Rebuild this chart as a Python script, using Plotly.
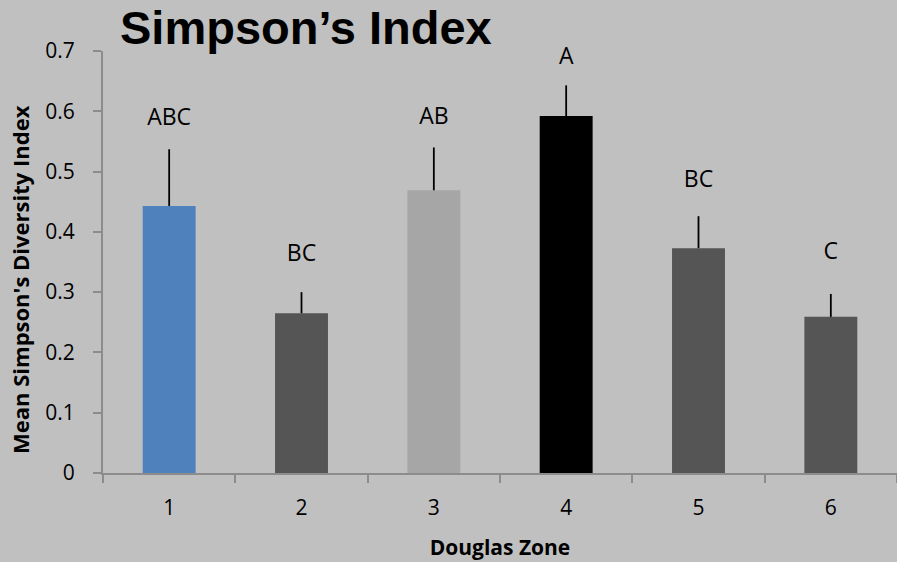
import plotly.graph_objects as go

zones = ["1", "2", "3", "4", "5", "6"]
means = [0.443, 0.265, 0.469, 0.592, 0.373, 0.259]
errors = [0.094, 0.035, 0.071, 0.051, 0.053, 0.038]
letters = ["ABC", "BC", "AB", "A", "BC", "C"]
letter_y = [0.586, 0.362, 0.588, 0.688, 0.484, 0.364]
colors = ["#4f81bd", "#555555", "#a6a6a6", "#000000", "#555555", "#555555"]

BG = "#c0c0c0"
AX = "#8c8c8c"
FONT = "Open Sans"

PL, PT, PW, PH = 103, 51, 794, 422

fig = go.Figure()
fig.add_trace(go.Bar(
    x=zones, y=means, marker=dict(color=colors, line=dict(width=0)),
    error_y=dict(type="data", symmetric=False, array=errors,
                 arrayminus=[0] * len(errors), width=0, thickness=1.8, color="#000000"),
    showlegend=False, hoverinfo="skip",
))
fig.add_trace(go.Scatter(
    x=zones, y=letter_y, mode="text", text=letters, cliponaxis=False,
    textfont=dict(family=FONT, size=23, color="#000000"),
    showlegend=False, hoverinfo="skip",
))

fig.update_layout(
    width=897, height=562,
    paper_bgcolor=BG, plot_bgcolor=BG,
    margin=dict(l=PL, r=0, t=PT, b=89),
    bargap=0.6,
    font=dict(family=FONT, size=22, color="#000000"),
    annotations=[
        dict(text="<b>Simpson’s Index</b>", x=(118 - PL) / PW, y=1 + (PT - 28) / PH,
             xref="paper", yref="paper", showarrow=False,
             font=dict(family="Liberation Sans", size=47, color="#000000"),
             xanchor="left", yanchor="middle"),
        dict(text="<b>Mean Simpson's Diversity Index</b>", textangle=-90,
             x=(20 - PL) / PW, y=1 - (280 - PT) / PH,
             xref="paper", yref="paper", showarrow=False,
             font=dict(family=FONT, size=22, color="#000000"),
             xanchor="center", yanchor="middle"),
    ],
)

fig.update_xaxes(
    type="category", tickson="boundaries", ticks="outside", ticklen=8, tickcolor=AX,
    tickwidth=2, showline=True, linecolor=AX, linewidth=2, showgrid=False,
    tickfont=dict(family=FONT, size=21), range=[-0.5, 5.5], ticklabelstandoff=15,
    title=dict(text="<b>Douglas Zone</b>", font=dict(family=FONT, size=21), standoff=20),
)
fig.update_yaxes(
    range=[0, 0.7], dtick=0.1, ticks="outside", ticklen=8, tickcolor=AX, tickwidth=2,
    showline=True, linecolor=AX, linewidth=2, showgrid=False, zeroline=False,
    tickfont=dict(family=FONT, size=21), ticklabelstandoff=14,
)

fig.write_html("out.html", config={"displayModeBar": False},
               post_script="document.body.style.margin='0';")
